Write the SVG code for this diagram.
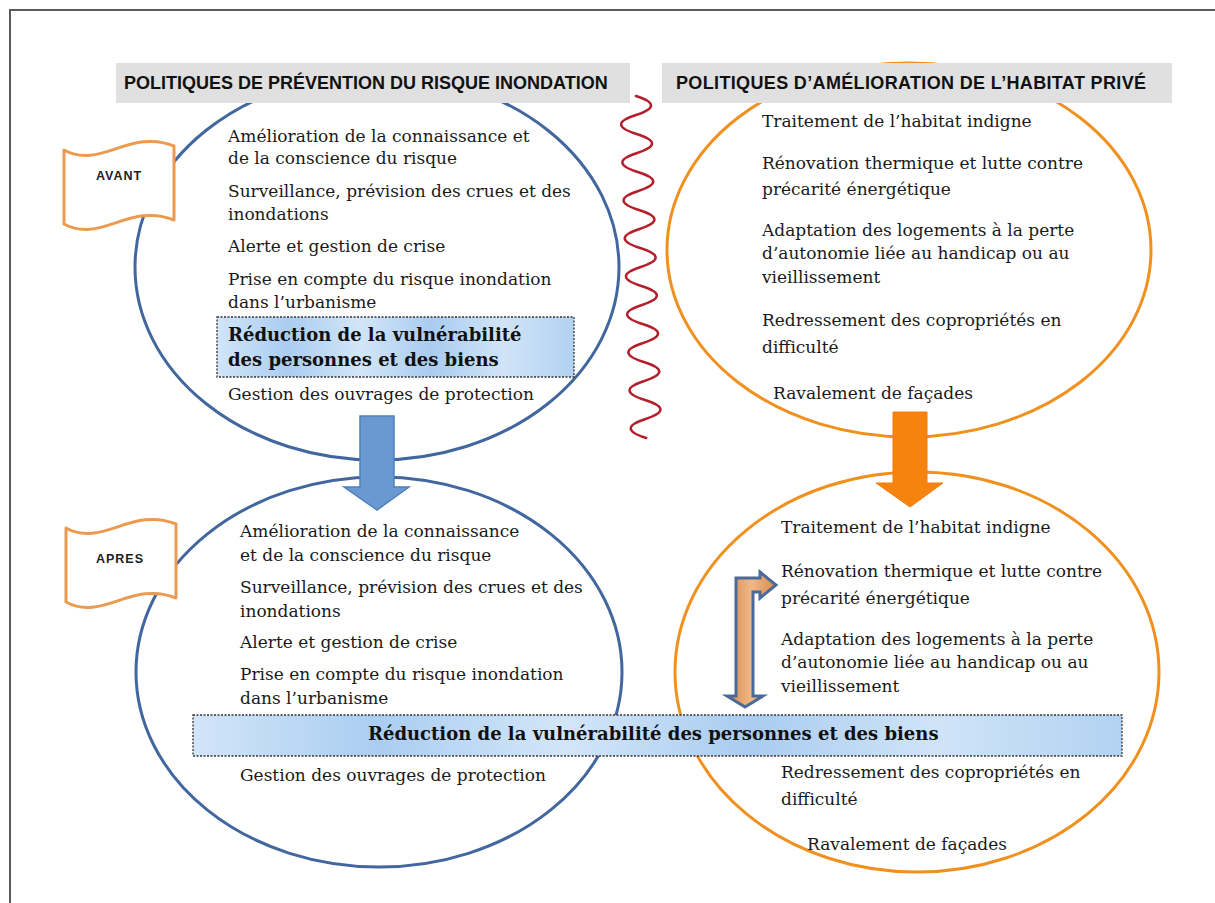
<svg xmlns="http://www.w3.org/2000/svg" width="1215" height="903" viewBox="0 0 1215 903">
<style>
.hdr{fill:#e0e0e0}
.hdrt{font-family:"Liberation Sans",Arial,sans-serif;font-weight:bold;font-size:18px;fill:#111}
.t{font-family:"DejaVu Serif",Georgia,serif;font-size:17px;fill:#1a1a1a}
.b{font-family:"DejaVu Serif",Georgia,serif;font-size:18px;font-weight:bold;fill:#111}
.ebl{fill:none;stroke:#41679e;stroke-width:3}
.eor{fill:none;stroke:#f0901e;stroke-width:3}
.flag{fill:#fff;stroke:#ec9a50;stroke-width:3;stroke-linejoin:round}
.flagt{font-family:"Liberation Sans",Arial,sans-serif;font-weight:bold;font-size:12.5px;letter-spacing:1px;fill:#222;text-anchor:middle}
.box{fill:url(#cloud);stroke:#333;stroke-width:1.3;stroke-dasharray:2 1.5}
</style>
<defs>
<linearGradient id="cloud" x1="0" y1="0" x2="1" y2="0">
<stop offset="0" stop-color="#d2e5f8"/>
<stop offset="0.2" stop-color="#aacdf1"/>
<stop offset="0.4" stop-color="#d3e6f8"/>
<stop offset="0.6" stop-color="#a9ccf0"/>
<stop offset="0.8" stop-color="#d0e4f7"/>
<stop offset="1" stop-color="#b2d2f2"/>
</linearGradient>
<linearGradient id="bentfill" x1="0" y1="0" x2="1" y2="0">
<stop offset="0" stop-color="#d98a4a"/>
<stop offset="0.5" stop-color="#f0b888"/>
<stop offset="1" stop-color="#d98a4a"/>
</linearGradient>
</defs>
<rect width="1215" height="903" fill="#fff"/>
<path d="M10,903 L10,10 L1215,10" fill="none" stroke="#5a5a5a" stroke-width="2"/>

<g id="ellipse-avant-prevention">
<ellipse class="ebl" cx="377" cy="267" rx="242" ry="193"/>
</g>
<g id="ellipse-avant-habitat">
<ellipse class="eor" cx="909" cy="250" rx="242" ry="187"/>
</g>
<g id="ellipse-apres-prevention">
<ellipse class="ebl" cx="379" cy="672" rx="243" ry="195"/>
</g>
<g id="ellipse-apres-habitat">
<ellipse class="eor" cx="917" cy="672" rx="242" ry="200"/>
</g>

<g id="header-prevention">
<rect class="hdr" x="116" y="63" width="514" height="40"/>
<text class="hdrt" x="124" y="89">POLITIQUES DE PRÉVENTION DU RISQUE INONDATION</text>
</g>
<g id="header-habitat">
<rect class="hdr" x="662" y="63" width="510" height="40"/>
<text class="hdrt" x="676" y="89" textLength="470" lengthAdjust="spacing">POLITIQUES D’AMÉLIORATION DE L’HABITAT PRIVÉ</text>
</g>

<g id="separator">
<path d="M636,96 q 30,9.5 0,19 t 0.6,19 t 0.6,19 t 0.6,19 t 0.6,19 t 0.6,19 t 0.6,19 t 0.6,19 t 0.6,19 t 0.6,19 t 0.6,19 t 0.6,19 t 0.6,19 t 0.6,19 t 0.6,19 t 0.6,19 t 0.6,19 t 0.6,19" fill="none" stroke="#b3202c" stroke-width="2.5" stroke-linejoin="round" stroke-linecap="round"/>
</g>

<g id="flag-avant">
<path class="flag" d="M64,150 C100,170 130,128 174,146 L174,220 C130,202 100,244 64,224 Z"/>
<text class="flagt" x="119" y="180">AVANT</text>
</g>
<g id="flag-apres">
<path class="flag" d="M66,528 C102,548 132,506 176,524 L176,598 C132,580 102,622 66,602 Z"/>
<text class="flagt" x="120" y="563">APRES</text>
</g>

<g id="text-avant-prevention">
<text class="t" x="228" y="142">Amélioration de la connaissance et</text>
<text class="t" x="228" y="164">de la conscience du risque</text>
<text class="t" x="228" y="197">Surveillance, prévision des crues et des</text>
<text class="t" x="228" y="220">inondations</text>
<text class="t" x="228" y="252">Alerte et gestion de crise</text>
<text class="t" x="228" y="285">Prise en compte du risque inondation</text>
<text class="t" x="228" y="308">dans l’urbanisme</text>
<rect class="box" x="217" y="317" width="357" height="60"/>
<text class="b" x="228" y="341">Réduction de la vulnérabilité</text>
<text class="b" x="228" y="366">des personnes et des biens</text>
<text class="t" x="228" y="400">Gestion des ouvrages de protection</text>
</g>

<g id="text-avant-habitat">
<text class="t" x="762" y="127">Traitement de l’habitat indigne</text>
<text class="t" x="762" y="169">Rénovation thermique et lutte contre</text>
<text class="t" x="762" y="195">précarité énergétique</text>
<text class="t" x="762" y="236">Adaptation des logements à la perte</text>
<text class="t" x="762" y="259">d’autonomie liée au handicap ou au</text>
<text class="t" x="762" y="283">vieillissement</text>
<text class="t" x="762" y="326">Redressement des copropriétés en</text>
<text class="t" x="762" y="353">difficulté</text>
<text class="t" x="773" y="399">Ravalement de façades</text>
</g>

<g id="text-apres-prevention">
<text class="t" x="240" y="537">Amélioration de la connaissance</text>
<text class="t" x="240" y="561">et de la conscience du risque</text>
<text class="t" x="240" y="593">Surveillance, prévision des crues et des</text>
<text class="t" x="240" y="617">inondations</text>
<text class="t" x="240" y="648">Alerte et gestion de crise</text>
<text class="t" x="240" y="680">Prise en compte du risque inondation</text>
<text class="t" x="240" y="704">dans l’urbanisme</text>
<text class="t" x="240" y="781">Gestion des ouvrages de protection</text>
</g>

<g id="text-apres-habitat">
<text class="t" x="781" y="533">Traitement de l’habitat indigne</text>
<text class="t" x="781" y="577">Rénovation thermique et lutte contre</text>
<text class="t" x="781" y="604">précarité énergétique</text>
<text class="t" x="781" y="645">Adaptation des logements à la perte</text>
<text class="t" x="781" y="668">d’autonomie liée au handicap ou au</text>
<text class="t" x="781" y="692">vieillissement</text>
<text class="t" x="781" y="778">Redressement des copropriétés en</text>
<text class="t" x="781" y="805">difficulté</text>
<text class="t" x="807" y="850">Ravalement de façades</text>
</g>

<g id="shared-reduction">
<rect class="box" x="193" y="715" width="929" height="41"/>
<text class="b" x="368" y="740">Réduction de la vulnérabilité des personnes et des biens</text>
</g>

<g id="connectors">
<path d="M360,416 L394,416 L394,487 L409,487 L377,510 L344,487 L360,487 Z" fill="#6a98d0" stroke="#5080bb" stroke-width="1.5"/>
<path d="M893,412 L927,412 L927,483 L943,483 L910,507 L876,483 L893,483 Z" fill="#f7830f" stroke="#f27d0c" stroke-width="1"/>
<path d="M736,696 L736,578 L760,578 L760,572 L776,585 L760,598 L760,592 L753,592 L753,696 L763,696 L745,707 L727,696 Z" fill="url(#bentfill)" stroke="#4a6a9a" stroke-width="3" stroke-linejoin="miter"/>
</g>
</svg>
